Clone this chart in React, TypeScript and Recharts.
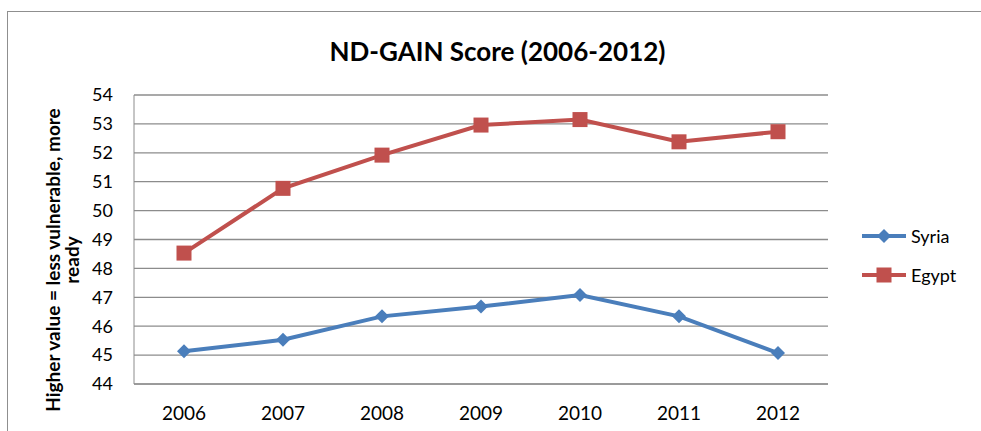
import { LineChart, Line, XAxis, YAxis, CartesianGrid } from "recharts";

const years = ["2006", "2007", "2008", "2009", "2010", "2011", "2012"];
const syria = [45.13, 45.53, 46.34, 46.68, 47.08, 46.34, 45.07];
const egypt = [48.53, 50.77, 51.92, 52.96, 53.15, 52.38, 52.73];
const yTicks = [44, 45, 46, 47, 48, 49, 50, 51, 52, 53, 54];

const data = years.map((year, i) => ({ year, Syria: syria[i], Egypt: egypt[i] }));

const BLUE = "#4a7ebb";
const RED = "#c0504d";
const FONT = "Lato, 'Open Sans', sans-serif";

const Diamond = (props: any) => {
	const { cx, cy } = props;
	if (cx == null || cy == null) return null;
	return <polygon points={`${cx},${cy - 7} ${cx + 7},${cy} ${cx},${cy + 7} ${cx - 7},${cy}`} fill={BLUE} />;
};

const Square = (props: any) => {
	const { cx, cy } = props;
	if (cx == null || cy == null) return null;
	return <rect x={cx - 7.5} y={cy - 7.5} width={15} height={15} fill={RED} />;
};

const AxisTitle = () => (
	<text transform="translate(60, 260) rotate(-90)" textAnchor="middle" fontSize={19} fontWeight="bold" fill="#000" fontFamily={FONT}>
		<tspan x={0} dy={0}>Higher value = less vulnerable, more</tspan>
		<tspan x={0} dy={19}>ready</tspan>
	</text>
);

function LegendItem({ name, color, shape }: { name: string; color: string; shape: "diamond" | "square" }) {
	return (
		<div style={{ display: "flex", alignItems: "center", height: 20, marginBottom: 19 }}>
			<svg width={44} height={20}>
				<line x1={0} y1={10} x2={44} y2={10} stroke={color} strokeWidth={4} />
				{shape === "diamond" ? (
					<polygon points="22,3 29,10 22,17 15,10" fill={color} />
				) : (
					<rect x={14.5} y={2.5} width={15} height={15} fill={color} />
				)}
			</svg>
			<span style={{ fontSize: 18, marginLeft: 5, color: "#000" }}>{name}</span>
		</div>
	);
}

export default function App() {
	return (
		<div style={{ position: "absolute", left: 0, top: 0, width: 981, height: 431, background: "#fff", fontFamily: FONT, overflow: "hidden" }}>
			<div style={{ position: "absolute", left: 7, top: 11, width: 990, height: 440, borderLeft: "1px solid #8f8f8f", borderTop: "1px solid #8f8f8f" }} />
			<div style={{ position: "absolute", left: 0, top: 35, width: 995, textAlign: "center", fontSize: 26, fontWeight: "bold", color: "#000" }}>
				ND-GAIN Score (2006-2012)
			</div>
			<div style={{ position: "absolute", left: 0, top: 0 }}>
				<LineChart width={981} height={431} data={data} margin={{ top: 95, right: 153, left: 0, bottom: 0 }}>
					<CartesianGrid vertical={false} stroke="#8c8c8c" strokeWidth={1.3} />
					<XAxis
						dataKey="year"
						height={47}
						padding={{ left: 50, right: 50 }}
						axisLine={{ stroke: "#8c8c8c" }}
						tickLine={false}
						tickMargin={17}
						tick={{ fontSize: 19, fill: "#000", fontFamily: FONT }}
					/>
					<YAxis
						width={134}
						domain={[44, 54]}
						ticks={yTicks}
						interval={0}
						axisLine={{ stroke: "#8c8c8c" }}
						tickLine={false}
						tickMargin={15}
						tick={{ fontSize: 18, fill: "#000", fontFamily: FONT }}
						label={<AxisTitle />}
					/>
					<Line dataKey="Syria" stroke={BLUE} strokeWidth={4} dot={<Diamond />} activeDot={false} isAnimationActive={false} />
					<Line dataKey="Egypt" stroke={RED} strokeWidth={4} dot={<Square />} activeDot={false} isAnimationActive={false} />
				</LineChart>
			</div>
			<div style={{ position: "absolute", left: 862, top: 226 }}>
				<LegendItem name="Syria" color={BLUE} shape="diamond" />
				<LegendItem name="Egypt" color={RED} shape="square" />
			</div>
		</div>
	);
}
